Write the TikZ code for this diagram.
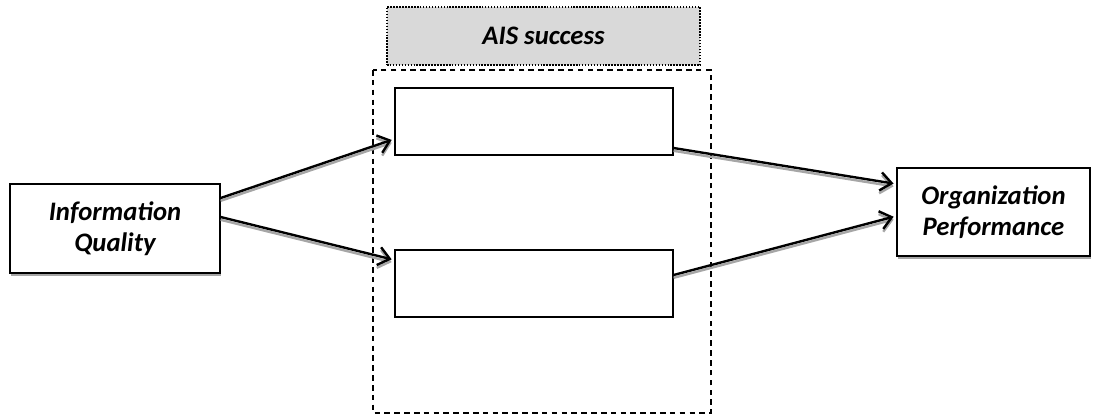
\documentclass[tikz,border=0pt]{standalone}
\usepackage{fontspec}
\setmainfont{Carlito}
\usepackage{tikz}
\usetikzlibrary{arrows}
\usetikzlibrary{arrows.meta}
\usetikzlibrary{positioning}
\usetikzlibrary{shadows}

\begin{document}
\begin{tikzpicture}[x=0.025cm, y=-0.025cm, >={Straight Barb[length=8pt,width=13pt]}]
  \tikzset{every node/.style={font=\fontsize{19}{22}\selectfont\bfseries\itshape, align=center, inner sep=0pt},
    varbox/.style={draw, line width=0.9pt, fill=white, drop shadow={shadow xshift=0.6pt, shadow yshift=-2pt, fill=black!35, opacity=1}},
    dimbox/.style={draw, line width=0.8pt, fill=white, minimum width=6.95cm, minimum height=1.675cm},
    link/.style={->, line width=1.7pt, shorten >=2pt, preaction={draw=black!35, line width=1.7pt, transform canvas={yshift=-2pt}}}}

  \useasboundingbox (0,0) rectangle (1097,417);

  % AIS success group
  \draw[dashed, line width=1.1pt, dash pattern=on 4pt off 3pt] (373,70) rectangle (711,413);
  \node[draw, densely dotted, line width=1.1pt, fill=black!15, minimum width=7.825cm, minimum height=1.45cm] (ais) at (543.5,36) {AIS success};
  \node[dimbox] (dim1) at (534,121.5) {};
  \node[dimbox] (dim2) at (534,283.5) {};

  \node[varbox, minimum width=5.25cm, minimum height=2.225cm] (iq) at (115,228.5) {Information\\Quality};
  \node[varbox, minimum width=4.825cm, minimum height=2.2cm] (op) at (993.5,212) {Organization\\Performance};

  \draw[link] ([yshift=0.7625cm]iq.east) -- ([yshift=-0.4375cm]dim1.west);
  \draw[link] ([yshift=0.2875cm]iq.east) -- ([yshift=0.5875cm]dim2.west);
  \draw[link] ([yshift=-0.6625cm]dim1.east) -- ([yshift=0.7cm]op.west);
  \draw[link] ([yshift=0.2125cm]dim2.east) -- ([yshift=-0.1cm]op.west);
\end{tikzpicture}
\end{document}
